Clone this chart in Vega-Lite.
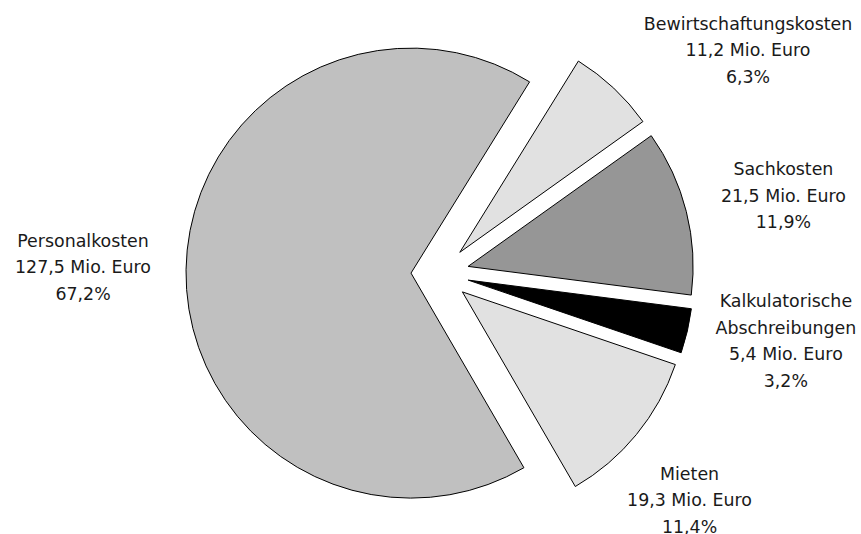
{
  "$schema": "https://vega.github.io/schema/vega-lite/v6.json",
  "autosize": "none",
  "width": 842,
  "height": 521,
  "padding": {"left": 19, "top": 13, "right": 0, "bottom": 0},
  "background": "white",
  "view": {"stroke": null},
  "config": {"text": {"font": "DejaVu Sans", "fontSize": 17.4, "lineHeight": 26.5, "fill": "#1a1a1a", "align": "center", "baseline": "middle"}},
  "data": {"values": [
    {"name": "Bewirtschaftungskosten", "mio": 11.2, "pct": 6.3, "ord": 1, "label": ["Bewirtschaftungskosten", "11,2 Mio. Euro", "6,3%"]},
    {"name": "Sachkosten", "mio": 21.5, "pct": 11.9, "ord": 2, "label": ["Sachkosten", "21,5 Mio. Euro", "11,9%"]},
    {"name": "Kalkulatorische Abschreibungen", "mio": 5.4, "pct": 3.2, "ord": 3, "label": ["Kalkulatorische", "Abschreibungen", "5,4 Mio. Euro", "3,2%"]},
    {"name": "Mieten", "mio": 19.3, "pct": 11.4, "ord": 4, "label": ["Mieten", "19,3 Mio. Euro", "11,4%"]},
    {"name": "Personalkosten", "mio": 127.5, "pct": 67.2, "ord": 5, "label": ["Personalkosten", "127,5 Mio. Euro", "67,2%"]}
  ]},
  "encoding": {
    "theta": {"field": "pct", "type": "quantitative", "stack": true, "scale": {"domain": [0, 100], "range": [0.555, 6.8382]}},
    "order": {"field": "ord", "type": "quantitative"},
    "detail": {"field": "name", "type": "nominal"}
  },
  "layer": [
    {"mark": {"type": "arc", "radius": 225, "stroke": "#000", "strokeWidth": 1, "xOffset": 19.8, "yOffset": -21.2},
     "encoding": {"fill": {"field": "name", "type": "nominal", "legend": null, "scale": {"domain": ["Bewirtschaftungskosten", "Sachkosten", "Kalkulatorische Abschreibungen", "Mieten", "Personalkosten"], "range": ["#e1e1e1", "#969696", "#000000", "#e1e1e1", "#c0c0c0"]}},
       "opacity": {"condition": {"test": "datum.name === 'Bewirtschaftungskosten'", "value": 1}, "value": 0}}},
    {"mark": {"type": "arc", "radius": 225, "stroke": "#000", "strokeWidth": 1, "xOffset": 28.1, "yOffset": -7.1},
     "encoding": {"fill": {"field": "name", "type": "nominal", "legend": null},
       "opacity": {"condition": {"test": "datum.name === 'Sachkosten'", "value": 1}, "value": 0}}},
    {"mark": {"type": "arc", "radius": 225, "stroke": "#000", "strokeWidth": 1, "xOffset": 28.2, "yOffset": 6.6},
     "encoding": {"fill": {"field": "name", "type": "nominal", "legend": null},
       "opacity": {"condition": {"test": "datum.name === 'Kalkulatorische Abschreibungen'", "value": 1}, "value": 0}}},
    {"mark": {"type": "arc", "radius": 225, "stroke": "#000", "strokeWidth": 1, "xOffset": 22.4, "yOffset": 18.4},
     "encoding": {"fill": {"field": "name", "type": "nominal", "legend": null},
       "opacity": {"condition": {"test": "datum.name === 'Mieten'", "value": 1}, "value": 0}}},
    {"mark": {"type": "arc", "radius": 225, "stroke": "#000", "strokeWidth": 1, "xOffset": -29.0, "yOffset": -0.4},
     "encoding": {"fill": {"field": "name", "type": "nominal", "legend": null},
       "opacity": {"condition": {"test": "datum.name === 'Personalkosten'", "value": 1}, "value": 0}}},
    {"mark": {"type": "text", "radius": 373, "dx": 53, "dy": 23.5},
     "encoding": {"text": {"field": "label"},
       "opacity": {"condition": {"test": "datum.name === 'Bewirtschaftungskosten'", "value": 1}, "value": 0}}},
    {"mark": {"type": "text", "radius": 352, "dx": 2, "dy": -17.5},
     "encoding": {"text": {"field": "label"},
       "opacity": {"condition": {"test": "datum.name === 'Sachkosten'", "value": 1}, "value": 0}}},
    {"mark": {"type": "text", "radius": 352, "dx": 3, "dy": -50.75},
     "encoding": {"text": {"field": "label"},
       "opacity": {"condition": {"test": "datum.name === 'Kalkulatorische Abschreibungen'", "value": 1}, "value": 0}}},
    {"mark": {"type": "text", "radius": 337, "dx": -11, "dy": -12.5},
     "encoding": {"text": {"field": "label"},
       "opacity": {"condition": {"test": "datum.name === 'Mieten'", "value": 1}, "value": 0}}},
    {"mark": {"type": "text", "radius": 357, "dx": 0, "dy": -26.5},
     "encoding": {"text": {"field": "label"},
       "opacity": {"condition": {"test": "datum.name === 'Personalkosten'", "value": 1}, "value": 0}}}
  ]
}
